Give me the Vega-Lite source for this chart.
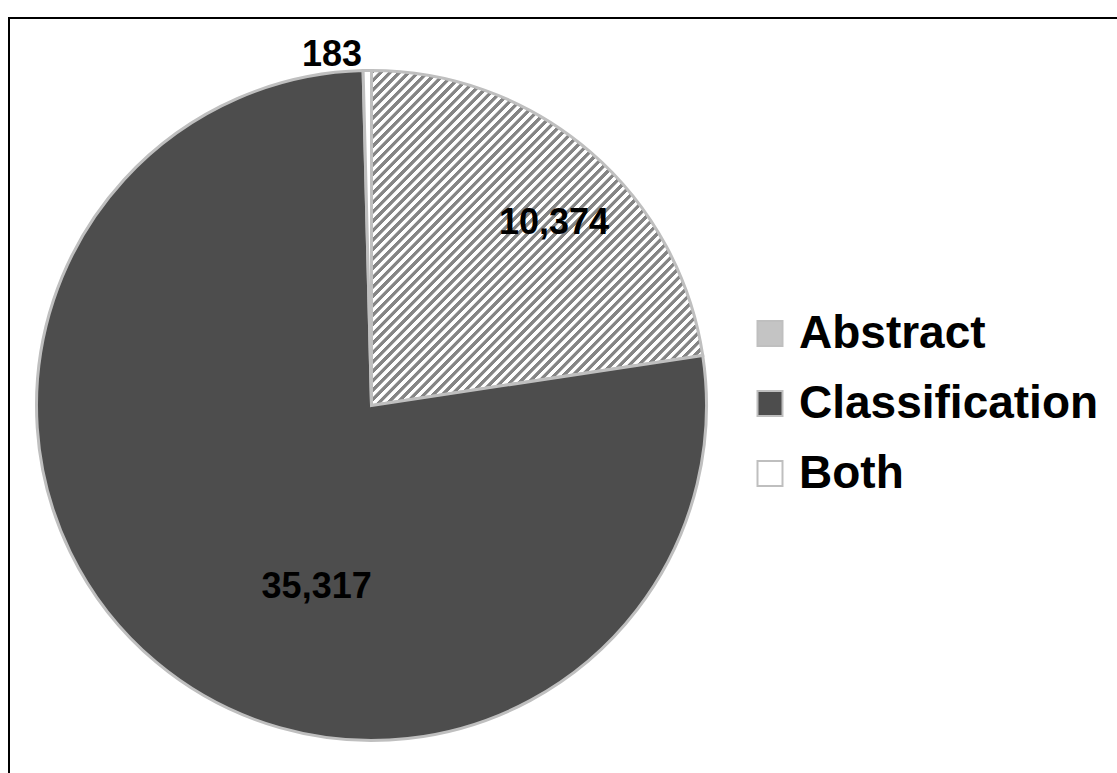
{
  "$schema": "https://vega.github.io/schema/vega-lite/v6.json",
  "width": 1108,
  "height": 755,
  "autosize": {"type": "none"},
  "padding": {"left": 9, "top": 18, "right": 0, "bottom": 0},
  "background": "#ffffff",
  "config": {"view": {"stroke": null}, "font": "Liberation Sans"},
  "data": {
    "values": [
      {"category": "Abstract", "value": 10374},
      {"category": "Classification", "value": 35317},
      {"category": "Both", "value": 183}
    ]
  },
  "layer": [
    {
      "data": {"values": [{}]},
      "mark": {"type": "rect", "filled": false, "stroke": "#000000", "strokeWidth": 2, "strokeDash": [1108, 1863, 760]},
      "encoding": {
        "x": {"value": 0},
        "x2": {"value": "width"},
        "y": {"value": 0},
        "y2": {"value": "height"}
      }
    },
    {
      "mark": {"type": "arc", "outerRadius": 335, "x": 362.5, "y": 387.5, "stroke": "#bfbfbf", "strokeWidth": 3, "strokeJoin": "miter"},
      "encoding": {
        "theta": {"field": "value", "type": "quantitative", "stack": true, "scale": {"range": [-0.025064, 6.258121]}},
        "order": {"field": "value", "type": "quantitative", "sort": "ascending"},
        "fill": {
          "field": "category",
          "type": "nominal",
          "scale": {"domain": ["Abstract", "Classification", "Both"], "range": ["#c4c4c4", "#4d4d4d", "#ffffff"]},
          "condition": {
            "test": "datum.category === 'Abstract'",
            "value": {
              "gradient": "linear", "x1": 0, "y1": 0, "x2": 1, "y2": 1,
              "stops": [
                {"offset": 0, "color": "#858585"}, {"offset": 0.006, "color": "#858585"}, {"offset": 0.007, "color": "#ffffff"}, {"offset": 0.013, "color": "#ffffff"},
                {"offset": 0.014, "color": "#858585"}, {"offset": 0.020, "color": "#858585"}, {"offset": 0.021, "color": "#ffffff"}, {"offset": 0.027, "color": "#ffffff"},
                {"offset": 0.028, "color": "#858585"}, {"offset": 0.034, "color": "#858585"}, {"offset": 0.035, "color": "#ffffff"}, {"offset": 0.041, "color": "#ffffff"},
                {"offset": 0.042, "color": "#858585"}, {"offset": 0.048, "color": "#858585"}, {"offset": 0.049, "color": "#ffffff"}, {"offset": 0.055, "color": "#ffffff"},
                {"offset": 0.056, "color": "#858585"}, {"offset": 0.062, "color": "#858585"}, {"offset": 0.063, "color": "#ffffff"}, {"offset": 0.069, "color": "#ffffff"},
                {"offset": 0.070, "color": "#858585"}, {"offset": 0.076, "color": "#858585"}, {"offset": 0.077, "color": "#ffffff"}, {"offset": 0.083, "color": "#ffffff"},
                {"offset": 0.084, "color": "#858585"}, {"offset": 0.090, "color": "#858585"}, {"offset": 0.091, "color": "#ffffff"}, {"offset": 0.097, "color": "#ffffff"},
                {"offset": 0.098, "color": "#858585"}, {"offset": 0.104, "color": "#858585"}, {"offset": 0.105, "color": "#ffffff"}, {"offset": 0.111, "color": "#ffffff"},
                {"offset": 0.112, "color": "#858585"}, {"offset": 0.118, "color": "#858585"}, {"offset": 0.119, "color": "#ffffff"}, {"offset": 0.125, "color": "#ffffff"},
                {"offset": 0.126, "color": "#858585"}, {"offset": 0.132, "color": "#858585"}, {"offset": 0.133, "color": "#ffffff"}, {"offset": 0.139, "color": "#ffffff"},
                {"offset": 0.140, "color": "#858585"}, {"offset": 0.146, "color": "#858585"}, {"offset": 0.147, "color": "#ffffff"}, {"offset": 0.153, "color": "#ffffff"},
                {"offset": 0.154, "color": "#858585"}, {"offset": 0.160, "color": "#858585"}, {"offset": 0.161, "color": "#ffffff"}, {"offset": 0.167, "color": "#ffffff"},
                {"offset": 0.168, "color": "#858585"}, {"offset": 0.174, "color": "#858585"}, {"offset": 0.175, "color": "#ffffff"}, {"offset": 0.181, "color": "#ffffff"},
                {"offset": 0.182, "color": "#858585"}, {"offset": 0.188, "color": "#858585"}, {"offset": 0.189, "color": "#ffffff"}, {"offset": 0.195, "color": "#ffffff"},
                {"offset": 0.196, "color": "#858585"}, {"offset": 0.202, "color": "#858585"}, {"offset": 0.203, "color": "#ffffff"}, {"offset": 0.209, "color": "#ffffff"},
                {"offset": 0.210, "color": "#858585"}, {"offset": 0.216, "color": "#858585"}, {"offset": 0.217, "color": "#ffffff"}, {"offset": 0.223, "color": "#ffffff"},
                {"offset": 0.224, "color": "#858585"}, {"offset": 0.230, "color": "#858585"}, {"offset": 0.231, "color": "#ffffff"}, {"offset": 0.237, "color": "#ffffff"},
                {"offset": 0.238, "color": "#858585"}, {"offset": 0.244, "color": "#858585"}, {"offset": 0.245, "color": "#ffffff"}, {"offset": 0.251, "color": "#ffffff"},
                {"offset": 0.252, "color": "#858585"}, {"offset": 0.258, "color": "#858585"}, {"offset": 0.259, "color": "#ffffff"}, {"offset": 0.265, "color": "#ffffff"},
                {"offset": 0.266, "color": "#858585"}, {"offset": 0.272, "color": "#858585"}, {"offset": 0.273, "color": "#ffffff"}, {"offset": 0.279, "color": "#ffffff"},
                {"offset": 0.280, "color": "#858585"}, {"offset": 0.286, "color": "#858585"}, {"offset": 0.287, "color": "#ffffff"}, {"offset": 0.293, "color": "#ffffff"},
                {"offset": 0.294, "color": "#858585"}, {"offset": 0.300, "color": "#858585"}, {"offset": 0.301, "color": "#ffffff"}, {"offset": 0.307, "color": "#ffffff"},
                {"offset": 0.308, "color": "#858585"}, {"offset": 0.314, "color": "#858585"}, {"offset": 0.315, "color": "#ffffff"}, {"offset": 0.321, "color": "#ffffff"},
                {"offset": 0.322, "color": "#858585"}, {"offset": 0.328, "color": "#858585"}, {"offset": 0.329, "color": "#ffffff"}, {"offset": 0.335, "color": "#ffffff"},
                {"offset": 0.336, "color": "#858585"}, {"offset": 0.342, "color": "#858585"}, {"offset": 0.343, "color": "#ffffff"}, {"offset": 0.349, "color": "#ffffff"},
                {"offset": 0.350, "color": "#858585"}, {"offset": 0.356, "color": "#858585"}, {"offset": 0.357, "color": "#ffffff"}, {"offset": 0.363, "color": "#ffffff"},
                {"offset": 0.364, "color": "#858585"}, {"offset": 0.370, "color": "#858585"}, {"offset": 0.371, "color": "#ffffff"}, {"offset": 0.377, "color": "#ffffff"},
                {"offset": 0.378, "color": "#858585"}, {"offset": 0.384, "color": "#858585"}, {"offset": 0.385, "color": "#ffffff"}, {"offset": 0.391, "color": "#ffffff"},
                {"offset": 0.392, "color": "#858585"}, {"offset": 0.398, "color": "#858585"}, {"offset": 0.399, "color": "#ffffff"}, {"offset": 0.405, "color": "#ffffff"},
                {"offset": 0.406, "color": "#858585"}, {"offset": 0.412, "color": "#858585"}, {"offset": 0.413, "color": "#ffffff"}, {"offset": 0.419, "color": "#ffffff"},
                {"offset": 0.420, "color": "#858585"}, {"offset": 0.426, "color": "#858585"}, {"offset": 0.427, "color": "#ffffff"}, {"offset": 0.433, "color": "#ffffff"},
                {"offset": 0.434, "color": "#858585"}, {"offset": 0.440, "color": "#858585"}, {"offset": 0.441, "color": "#ffffff"}, {"offset": 0.447, "color": "#ffffff"},
                {"offset": 0.448, "color": "#858585"}, {"offset": 0.454, "color": "#858585"}, {"offset": 0.455, "color": "#ffffff"}, {"offset": 0.461, "color": "#ffffff"},
                {"offset": 0.462, "color": "#858585"}, {"offset": 0.468, "color": "#858585"}, {"offset": 0.469, "color": "#ffffff"}, {"offset": 0.475, "color": "#ffffff"},
                {"offset": 0.476, "color": "#858585"}, {"offset": 0.482, "color": "#858585"}, {"offset": 0.483, "color": "#ffffff"}, {"offset": 0.489, "color": "#ffffff"},
                {"offset": 0.490, "color": "#858585"}, {"offset": 0.496, "color": "#858585"}, {"offset": 0.497, "color": "#ffffff"}, {"offset": 0.503, "color": "#ffffff"},
                {"offset": 0.504, "color": "#858585"}, {"offset": 0.510, "color": "#858585"}, {"offset": 0.511, "color": "#ffffff"}, {"offset": 0.517, "color": "#ffffff"},
                {"offset": 0.518, "color": "#858585"}, {"offset": 0.524, "color": "#858585"}, {"offset": 0.525, "color": "#ffffff"}, {"offset": 0.531, "color": "#ffffff"},
                {"offset": 0.532, "color": "#858585"}, {"offset": 0.538, "color": "#858585"}, {"offset": 0.539, "color": "#ffffff"}, {"offset": 0.545, "color": "#ffffff"},
                {"offset": 0.546, "color": "#858585"}, {"offset": 0.552, "color": "#858585"}, {"offset": 0.553, "color": "#ffffff"}, {"offset": 0.559, "color": "#ffffff"},
                {"offset": 0.560, "color": "#858585"}, {"offset": 0.566, "color": "#858585"}, {"offset": 0.567, "color": "#ffffff"}, {"offset": 0.573, "color": "#ffffff"},
                {"offset": 0.574, "color": "#858585"}, {"offset": 0.580, "color": "#858585"}, {"offset": 0.581, "color": "#ffffff"}, {"offset": 0.587, "color": "#ffffff"},
                {"offset": 0.588, "color": "#858585"}, {"offset": 0.594, "color": "#858585"}, {"offset": 0.595, "color": "#ffffff"}, {"offset": 0.601, "color": "#ffffff"},
                {"offset": 0.602, "color": "#858585"}, {"offset": 0.608, "color": "#858585"}, {"offset": 0.609, "color": "#ffffff"}, {"offset": 0.615, "color": "#ffffff"},
                {"offset": 0.616, "color": "#858585"}, {"offset": 0.622, "color": "#858585"}, {"offset": 0.623, "color": "#ffffff"}, {"offset": 0.629, "color": "#ffffff"},
                {"offset": 0.630, "color": "#858585"}, {"offset": 0.636, "color": "#858585"}, {"offset": 0.637, "color": "#ffffff"}, {"offset": 0.643, "color": "#ffffff"},
                {"offset": 0.644, "color": "#858585"}, {"offset": 0.650, "color": "#858585"}, {"offset": 0.651, "color": "#ffffff"}, {"offset": 0.657, "color": "#ffffff"},
                {"offset": 0.658, "color": "#858585"}, {"offset": 0.664, "color": "#858585"}, {"offset": 0.665, "color": "#ffffff"}, {"offset": 0.671, "color": "#ffffff"},
                {"offset": 0.672, "color": "#858585"}, {"offset": 0.678, "color": "#858585"}, {"offset": 0.679, "color": "#ffffff"}, {"offset": 0.685, "color": "#ffffff"},
                {"offset": 0.686, "color": "#858585"}, {"offset": 0.692, "color": "#858585"}, {"offset": 0.693, "color": "#ffffff"}, {"offset": 0.699, "color": "#ffffff"},
                {"offset": 0.700, "color": "#858585"}, {"offset": 0.706, "color": "#858585"}, {"offset": 0.707, "color": "#ffffff"}, {"offset": 0.713, "color": "#ffffff"},
                {"offset": 0.714, "color": "#858585"}, {"offset": 0.720, "color": "#858585"}, {"offset": 0.721, "color": "#ffffff"}, {"offset": 0.727, "color": "#ffffff"},
                {"offset": 0.728, "color": "#858585"}, {"offset": 0.734, "color": "#858585"}, {"offset": 0.735, "color": "#ffffff"}, {"offset": 0.741, "color": "#ffffff"},
                {"offset": 0.742, "color": "#858585"}, {"offset": 0.748, "color": "#858585"}, {"offset": 0.749, "color": "#ffffff"}, {"offset": 0.755, "color": "#ffffff"},
                {"offset": 0.756, "color": "#858585"}, {"offset": 0.762, "color": "#858585"}, {"offset": 0.763, "color": "#ffffff"}, {"offset": 0.769, "color": "#ffffff"},
                {"offset": 0.770, "color": "#858585"}, {"offset": 0.776, "color": "#858585"}, {"offset": 0.777, "color": "#ffffff"}, {"offset": 0.783, "color": "#ffffff"},
                {"offset": 0.784, "color": "#858585"}, {"offset": 0.790, "color": "#858585"}, {"offset": 0.791, "color": "#ffffff"}, {"offset": 0.797, "color": "#ffffff"},
                {"offset": 0.798, "color": "#858585"}, {"offset": 0.804, "color": "#858585"}, {"offset": 0.805, "color": "#ffffff"}, {"offset": 0.811, "color": "#ffffff"},
                {"offset": 0.812, "color": "#858585"}, {"offset": 0.818, "color": "#858585"}, {"offset": 0.819, "color": "#ffffff"}, {"offset": 0.825, "color": "#ffffff"},
                {"offset": 0.826, "color": "#858585"}, {"offset": 0.832, "color": "#858585"}, {"offset": 0.833, "color": "#ffffff"}, {"offset": 0.839, "color": "#ffffff"},
                {"offset": 0.840, "color": "#858585"}, {"offset": 0.846, "color": "#858585"}, {"offset": 0.847, "color": "#ffffff"}, {"offset": 0.853, "color": "#ffffff"},
                {"offset": 0.854, "color": "#858585"}, {"offset": 0.860, "color": "#858585"}, {"offset": 0.861, "color": "#ffffff"}, {"offset": 0.867, "color": "#ffffff"},
                {"offset": 0.868, "color": "#858585"}, {"offset": 0.874, "color": "#858585"}, {"offset": 0.875, "color": "#ffffff"}, {"offset": 0.881, "color": "#ffffff"},
                {"offset": 0.882, "color": "#858585"}, {"offset": 0.888, "color": "#858585"}, {"offset": 0.889, "color": "#ffffff"}, {"offset": 0.895, "color": "#ffffff"},
                {"offset": 0.896, "color": "#858585"}, {"offset": 0.902, "color": "#858585"}, {"offset": 0.903, "color": "#ffffff"}, {"offset": 0.909, "color": "#ffffff"},
                {"offset": 0.910, "color": "#858585"}, {"offset": 0.916, "color": "#858585"}, {"offset": 0.917, "color": "#ffffff"}, {"offset": 0.923, "color": "#ffffff"},
                {"offset": 0.924, "color": "#858585"}, {"offset": 0.930, "color": "#858585"}, {"offset": 0.931, "color": "#ffffff"}, {"offset": 0.937, "color": "#ffffff"},
                {"offset": 0.938, "color": "#858585"}, {"offset": 0.944, "color": "#858585"}, {"offset": 0.945, "color": "#ffffff"}, {"offset": 0.951, "color": "#ffffff"},
                {"offset": 0.952, "color": "#858585"}, {"offset": 0.958, "color": "#858585"}, {"offset": 0.959, "color": "#ffffff"}, {"offset": 0.965, "color": "#ffffff"},
                {"offset": 0.966, "color": "#858585"}, {"offset": 0.972, "color": "#858585"}, {"offset": 0.973, "color": "#ffffff"}, {"offset": 0.979, "color": "#ffffff"},
                {"offset": 0.980, "color": "#858585"}, {"offset": 0.986, "color": "#858585"}, {"offset": 0.987, "color": "#ffffff"}, {"offset": 0.993, "color": "#ffffff"},
                {"offset": 0.994, "color": "#858585"}, {"offset": 1, "color": "#858585"}
              ]
            }
          },
          "legend": {
            "orient": "none",
            "legendX": 738,
            "legendY": 292.5,
            "title": null,
            "padding": 0,
            "symbolType": "square",
            "symbolSize": 625,
            "symbolStrokeColor": "#bfbfbf",
            "symbolStrokeWidth": 2,
            "labelFont": "Liberation Sans",
            "labelFontSize": 46,
            "labelFontWeight": "bold",
            "labelColor": "#000000",
            "labelOffset": 6,
            "labelLimit": 500,
            "rowPadding": 24
          }
        }
      }
    },
    {
      "mark": {"type": "text", "x": 362.5, "y": 387.5, "radius": 260, "dx": 13, "dy": 15, "font": "Liberation Sans", "fontSize": 36, "fontWeight": "bold", "color": "#000000"},
      "encoding": {
        "theta": {"field": "value", "type": "quantitative", "stack": true},
        "order": {"field": "value", "type": "quantitative", "sort": "ascending"},
        "text": {"condition": {"test": "datum.category === 'Abstract'", "field": "value", "type": "quantitative", "format": ","}, "value": ""}
      }
    },
    {
      "mark": {"type": "text", "x": 362.5, "y": 387.5, "radius": 172.5, "dx": 56, "dy": 49, "font": "Liberation Sans", "fontSize": 36, "fontWeight": "bold", "color": "#000000"},
      "encoding": {
        "theta": {"field": "value", "type": "quantitative", "stack": true},
        "order": {"field": "value", "type": "quantitative", "sort": "ascending"},
        "text": {"condition": {"test": "datum.category === 'Classification'", "field": "value", "type": "quantitative", "format": ","}, "value": ""}
      }
    },
    {
      "mark": {"type": "text", "x": 362.5, "y": 387.5, "radius": 352.5, "dx": -35, "dy": 2, "font": "Liberation Sans", "fontSize": 36, "fontWeight": "bold", "color": "#000000"},
      "encoding": {
        "theta": {"field": "value", "type": "quantitative", "stack": true},
        "order": {"field": "value", "type": "quantitative", "sort": "ascending"},
        "text": {"condition": {"test": "datum.category === 'Both'", "field": "value", "type": "quantitative", "format": ","}, "value": ""}
      }
    }
  ]
}
